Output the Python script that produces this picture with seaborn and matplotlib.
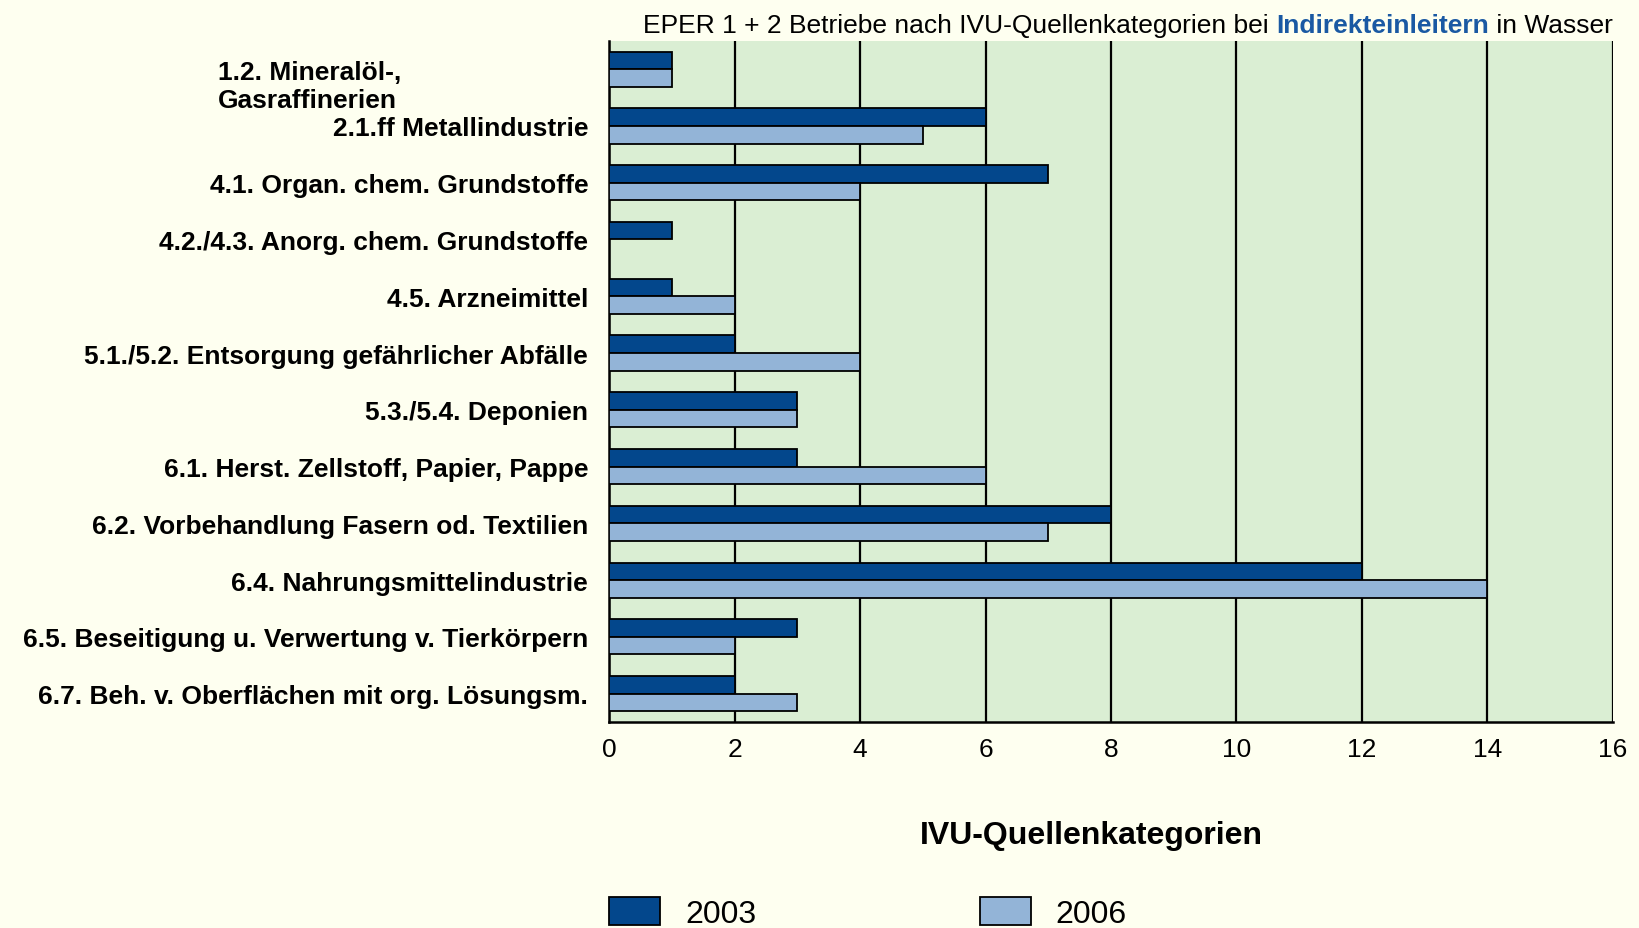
import pandas as pd
import seaborn as sns
import matplotlib.pyplot as plt
from matplotlib.patches import Patch

categories = [
    "1.2. Mineralöl-,\nGasraffinerien",
    "2.1.ff Metallindustrie",
    "4.1. Organ. chem. Grundstoffe",
    "4.2./4.3. Anorg. chem. Grundstoffe",
    "4.5. Arzneimittel",
    "5.1./5.2. Entsorgung gefährlicher Abfälle",
    "5.3./5.4. Deponien",
    "6.1. Herst. Zellstoff, Papier, Pappe",
    "6.2. Vorbehandlung Fasern od. Textilien",
    "6.4. Nahrungsmittelindustrie",
    "6.5. Beseitigung u. Verwertung v. Tierkörpern",
    "6.7. Beh. v. Oberflächen mit org. Lösungsm.",
]
years = ["2003", "2006"]
values_2003 = [1, 6, 7, 1, 1, 2, 3, 3, 8, 12, 3, 2]
values_2006 = [1, 5, 4, 0, 2, 4, 3, 6, 7, 14, 2, 3]
x_ticks = [0, 2, 4, 6, 8, 10, 12, 14, 16]

dark_blue = "#03478C"
light_blue = "#93B4D7"
bg = "#FEFFF0"
plot_bg = "#DAEED3"

df = pd.DataFrame({
    "Kategorie": categories * 2,
    "Jahr": [years[0]] * len(categories) + [years[1]] * len(categories),
    "Anzahl": values_2003 + values_2006,
})

sns.set_style("white")
plt.rcParams['font.family'] = ['Liberation Sans Narrow', 'Liberation Sans', 'DejaVu Sans']
plt.rcParams['text.color'] = 'black'
plt.rcParams['xtick.color'] = 'black'
plt.rcParams['ytick.color'] = 'black'
plt.rcParams['axes.labelcolor'] = 'black'

fig = plt.figure(figsize=(16.39, 9.29), dpi=100, facecolor=bg)
ax = fig.add_axes([0.3716, 0.2217, 0.6125, 0.7333])
ax.set_facecolor(plot_bg)

sns.barplot(data=df, y="Kategorie", x="Anzahl", hue="Jahr", orient="h",
            palette=[dark_blue, light_blue], saturation=1, width=0.62,
            edgecolor="black", linewidth=1.3, ax=ax, legend=False, zorder=3)

ax.set_xlim(0, 16)
ax.set_xticks(x_ticks)
ax.set_xticklabels([str(t) for t in x_ticks], fontsize=19)
ax.grid(axis="x", color="black", linewidth=1.6, zorder=1)
ax.set_axisbelow(True)
ax.tick_params(axis="x", length=5, width=1.5, direction="out", pad=6)

# tick marks between categories, labels at centers
ax.set_yticks(range(len(categories)))
labels = [""] + categories[1:]
ax.set_yticklabels(labels, fontsize=19, fontweight="bold")
ax.tick_params(axis="y", which="major", length=0, pad=15)
ax.set_yticks([i + 0.5 for i in range(-1, len(categories))], minor=True)
ax.tick_params(axis="y", which="minor", length=6, width=1.5, direction="out")
ax.set_ylim(len(categories) - 0.5, -0.5)

ax.text(-0.39, 0.3, categories[0], transform=ax.get_yaxis_transform(),
        ha="left", va="center", fontsize=19, fontweight="bold", linespacing=1.2)

for s in ["top", "right"]:
    ax.spines[s].set_visible(False)
for s in ["left", "bottom"]:
    ax.spines[s].set_color("black")
    ax.spines[s].set_linewidth(1.8)

ax.set_xlabel("")
ax.set_ylabel("")
fig.text(0.666, 0.1005, "IVU-Quellenkategorien", ha="center", va="center",
         fontsize=23, fontweight="bold")

# title with bold blue part, laid out right to left
fig.canvas.draw()
renderer = fig.canvas.get_renderer()
pieces = [("EPER 1 + 2 Betriebe nach IVU-Quellenkategorien bei ", "normal", "black"),
          ("Indirekteinleitern", "bold", "#1A59A3"),
          (" in Wasser", "normal", "black")]
x_right = 1613
for text, weight, color in reversed(pieces):
    t = fig.text(x_right / 1639, 1 - 33 / 929, text, ha="right", va="baseline",
                 fontsize=19, fontweight=weight, color=color)
    bb = t.get_window_extent(renderer)
    x_right = bb.x0

handles = [Patch(facecolor=dark_blue, edgecolor="black", linewidth=1.3, label=years[0]),
           Patch(facecolor=light_blue, edgecolor="black", linewidth=1.3, label=years[1])]
fig.legend(handles=handles, loc="upper left", bbox_to_anchor=(609 / 1639, 1 - 898 / 929),
           ncol=2, frameon=False, fontsize=23, handlelength=1.6, handleheight=0.97,
           handletextpad=0.78, columnspacing=7.0, borderpad=0, borderaxespad=0)

fig.savefig("out.png", dpi=100, facecolor=bg)
